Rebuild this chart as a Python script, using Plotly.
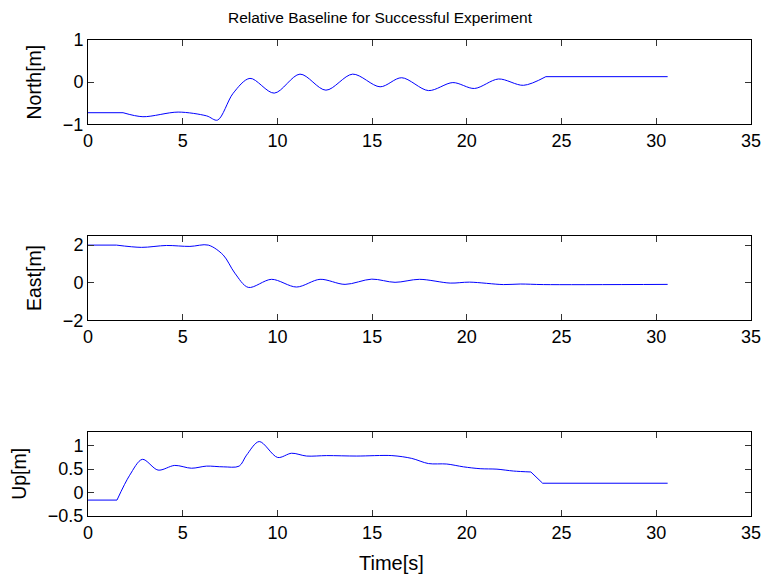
import plotly.graph_objects as go

# ---- data ----
north_t = [0, 1.85, 2.9, 4.76, 6.26, 6.84, 7.66, 8.55, 9.83, 11.19, 12.56, 13.97, 15.42,
           16.56, 17.97, 19.26, 20.40, 21.67, 22.99, 24.17, 30.6]
north_v = [-0.725, -0.725, -0.82, -0.71, -0.80, -0.90, -0.265, 0.09, -0.26, 0.19, -0.19, 0.19, -0.11,
           0.105, -0.20, -0.01, -0.15, 0.075, -0.075, 0.13, 0.13]

east_t = [0, 1.5, 2.82, 4.14, 5.38, 6.35, 7.14, 7.75, 8.46, 9.69, 11.01, 12.25, 13.57, 14.98,
          16.21, 17.5, 19.12, 20.14, 21.93, 22.82, 24.05, 30.6]
east_v = [2.0, 2.0, 1.88, 1.98, 1.93, 2.0, 1.47, 0.51, -0.25, 0.18, -0.23, 0.18, -0.09, 0.19,
          0.02, 0.18, -0.02, 0.03, -0.10, -0.07, -0.10, -0.09]

up_t = [0, 1.53, 2.2, 2.87, 3.70, 4.58, 5.46, 6.26, 7.14, 7.98, 8.37, 9.04, 10.01, 10.75, 11.54,
        12.6, 14.19, 16.04, 17.09, 17.97, 18.94, 19.82, 20.7, 21.59, 22.46, 23.38, 24.0, 30.6]
up_v = [-0.16, -0.16, 0.37, 0.71, 0.48, 0.58, 0.52, 0.565, 0.55, 0.565, 0.80, 1.09, 0.75, 0.84, 0.78,
        0.79, 0.78, 0.79, 0.73, 0.62, 0.61, 0.55, 0.51, 0.50, 0.46, 0.44, 0.20, 0.20]

x_ticks = [0, 5, 10, 15, 20, 25, 30, 35]
north_ticks = [-1, 0, 1]
east_ticks = [-2, 0, 2]
up_ticks = [-0.5, 0, 0.5, 1]
up_tick_text = ["\u22120.5", "0", "0.5", "1"]

title_text = "Relative Baseline for Successful Experiment"
ylabels = ["North[m]", "East[m]", "Up[m]"]
xlabel = "Time[s]"

FONT = "Liberation Sans, Arial, Helvetica, sans-serif"
W, H = 762, 574
ML, MR, MT, MB = 88, 11, 40, 58
PH = H - MT - MB
PW = W - ML - MR

def dom(top_px, bot_px):
    return [(H - MB - bot_px) / PH, (H - MB - top_px) / PH]

fig = go.Figure()

def add_series(t, v, axis_suffix, segments):
    # segments: (start_idx, end_idx, shape) – smooth oscillating parts, straight flat parts
    for a, b, shape in segments:
        ln = dict(color="#0000ff", width=1, shape=shape)
        if shape == "spline":
            ln["smoothing"] = 0.9
        fig.add_trace(go.Scatter(x=t[a:b + 1], y=v[a:b + 1], mode="lines", line=ln,
                                 xaxis="x" + axis_suffix, yaxis="y" + axis_suffix,
                                 showlegend=False, hoverinfo="skip"))

n = len(north_t)
add_series(north_t, north_v, "", [(0, 1, "linear"), (1, n - 2, "spline"), (n - 2, n - 1, "linear")])
m = len(east_t)
add_series(east_t, east_v, "2", [(0, 1, "linear"), (1, m - 1, "spline")])
k = len(up_t)
add_series(up_t, up_v, "3", [(0, 1, "linear"), (1, k - 3, "spline"), (k - 3, k - 1, "linear")])

common_x = dict(range=[0, 35], tickvals=x_ticks, ticks="inside", ticklen=6, tickcolor="#333",
                showline=True, linecolor="black", linewidth=1, mirror="allticks", showgrid=False,
                zeroline=False, automargin=False, tickfont=dict(family=FONT, size=18, color="black"))
common_y = dict(ticks="inside", ticklen=6, tickcolor="#333", showline=True, linecolor="black",
                linewidth=1, mirror="allticks", showgrid=False, zeroline=False, automargin=False,
                tickfont=dict(family=FONT, size=18, color="black"),
                title_font=dict(family=FONT, size=19.5, color="black"), title_standoff=16)

panels = [(40, 124.3), (235.7, 320.3), (431.7, 516)]
fig.update_layout(
    width=W, height=H, margin=dict(l=ML, r=MR, t=MT, b=MB),
    paper_bgcolor="white", plot_bgcolor="white",
    title=dict(text=title_text, xref="container", x=380 / W, xanchor="center", yref="container",
               y=1 - 18 / H, yanchor="middle",
               font=dict(family=FONT, size=15.5, color="black")),
    xaxis=dict(common_x, domain=[0, 1], anchor="y"),
    xaxis2=dict(common_x, domain=[0, 1], anchor="y2"),
    xaxis3=dict(common_x, domain=[0, 1], anchor="y3"),
    yaxis=dict(common_y, domain=dom(*panels[0]), range=[-1, 1], tickvals=north_ticks,
               title_text=ylabels[0], anchor="x"),
    yaxis2=dict(common_y, domain=dom(*panels[1]), range=[-2, 2.5], tickvals=east_ticks,
                title_text=ylabels[1], anchor="x2"),
    yaxis3=dict(common_y, domain=dom(*panels[2]), range=[-0.5, 1.3], tickvals=up_ticks,
                ticktext=up_tick_text, title_text=ylabels[2], anchor="x3"),
    annotations=[dict(text=xlabel, xref="paper", yref="paper", x=(391 - ML) / PW,
                      y=-(563 - (H - MB)) / PH, xanchor="center", yanchor="middle",
                      showarrow=False, font=dict(family=FONT, size=20, color="black"))],
)

fig.write_html("out.html")
